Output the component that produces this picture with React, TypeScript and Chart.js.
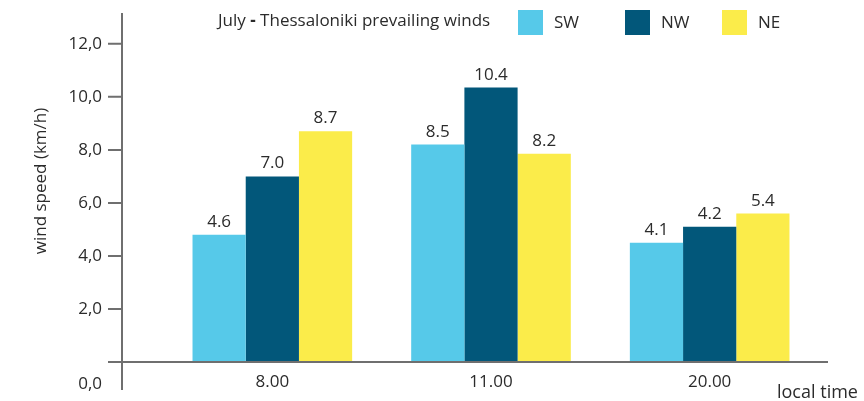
import { useEffect, useRef } from 'react';
import { Chart, registerables } from 'chart.js';

Chart.register(...registerables);

const categories = ['8.00', '11.00', '20.00'];
const seriesNames = ['SW', 'NW', 'NE'];
const seriesColors = ['#56C9E9', '#02577A', '#FBEC4A'];
const swValues = [4.8, 8.2, 4.5];
const nwValues = [7.0, 10.35, 5.1];
const neValues = [8.7, 7.85, 5.6];
const swLabels = ['4.6', '8.5', '4.1'];
const nwLabels = ['7.0', '10.4', '4.2'];
const neLabels = ['8.7', '8.2', '5.4'];
const yTickValues = [0, 2, 4, 6, 8, 10, 12];
const yTickLabels = ['0,0', '2,0', '4,0', '6,0', '8,0', '10,0', '12,0'];
const titleParts = ['July', '-', 'Thessaloniki prevailing winds'];
const yAxisTitle = 'wind speed (km/h)';
const xAxisTitle = 'local time';

const FONT = '"Open Sans", "Noto Sans", sans-serif';
const TEXT = '#2b2b2b';
const AXIS = '#6f6f6f';

const decorPlugin = {
  id: 'decor',
  afterDatasetsDraw(chart: any) {
    const ctx = chart.ctx as CanvasRenderingContext2D;
    const y = chart.scales.y;
    const x = chart.scales.x;
    const axisX = 122;
    const zeroY = y.getPixelForValue(0);
    ctx.save();
    // value labels
    const allLabels = [swLabels, nwLabels, neLabels];
    ctx.font = `17px ${FONT}`;
    ctx.fillStyle = TEXT;
    ctx.textAlign = 'center';
    ctx.textBaseline = 'alphabetic';
    chart.data.datasets.forEach((_: any, di: number) => {
      const meta = chart.getDatasetMeta(di);
      meta.data.forEach((bar: any, i: number) => {
        ctx.fillText(allLabels[di][i], bar.x, bar.y - 8);
      });
    });
    // axes
    ctx.strokeStyle = AXIS;
    ctx.lineWidth = 2;
    ctx.beginPath();
    ctx.moveTo(axisX, 13);
    ctx.lineTo(axisX, 390);
    ctx.moveTo(108, zeroY);
    ctx.lineTo(828, zeroY);
    yTickValues.forEach((v) => {
      const py = y.getPixelForValue(v);
      ctx.moveTo(108, py);
      ctx.lineTo(axisX, py);
    });
    ctx.stroke();
    // y tick labels
    ctx.fillStyle = TEXT;
    ctx.textAlign = 'right';
    ctx.textBaseline = 'middle';
    yTickValues.forEach((v, i) => {
      let py = y.getPixelForValue(v);
      if (v === 0) py += 22;
      ctx.fillText(yTickLabels[i], 102, py);
    });
    // x labels
    ctx.textAlign = 'center';
    categories.forEach((c, i) => {
      ctx.fillText(c, x.getPixelForValue(i), zeroY + 20);
    });
    ctx.textAlign = 'left';
    ctx.font = `18px ${FONT}`;
    ctx.fillText(xAxisTitle, 777, zeroY + 31);
    // y title
    ctx.font = `17px ${FONT}`;
    ctx.save();
    ctx.translate(41, 181);
    ctx.rotate(-Math.PI / 2);
    ctx.textAlign = 'center';
    ctx.fillText(yAxisTitle, 0, 0);
    ctx.restore();
    // title
    ctx.textAlign = 'left';
    let tx = 218;
    ctx.font = `17px ${FONT}`;
    ctx.fillText(titleParts[0], tx, 21);
    tx += ctx.measureText(titleParts[0] + ' ').width;
    ctx.font = `bold 17px ${FONT}`;
    ctx.fillText(titleParts[1], tx, 21);
    tx += ctx.measureText(titleParts[1]).width;
    ctx.font = `17px ${FONT}`;
    tx += ctx.measureText(' ').width;
    ctx.fillText(titleParts[2], tx, 21);
    // legend
    const legendX = [518, 625, 722];
    chart.data.datasets.forEach((ds: any, di: number) => {
      ctx.fillStyle = ds.backgroundColor;
      ctx.fillRect(legendX[di], 10, 25, 25);
      ctx.fillStyle = TEXT;
      ctx.fillText(ds.label, legendX[di] + 36, 23);
    });
    ctx.restore();
  },
};

export default function App() {
  const ref = useRef<HTMLCanvasElement>(null);
  useEffect(() => {
    document.body.style.margin = '0';
    const chart = new Chart(ref.current!, {
      type: 'bar',
      data: {
        labels: categories,
        datasets: [swValues, nwValues, neValues].map((vals, i) => ({
          label: seriesNames[i],
          data: vals,
          backgroundColor: seriesColors[i],
          borderWidth: 0,
          barPercentage: 1,
          categoryPercentage: 0.73,
        })),
      },
      options: {
        animation: false,
        responsive: false,
        layout: { padding: { left: 163, right: 45, top: 12, bottom: 39 } },
        plugins: { legend: { display: false }, title: { display: false }, tooltip: { enabled: false } },
        scales: {
          x: { display: false },
          y: { display: false, min: 0, max: 13.2 },
        },
      },
      plugins: [decorPlugin],
    });
    return () => chart.destroy();
  }, []);
  return <canvas ref={ref} width={864} height={401} style={{ display: 'block' }} />;
}
